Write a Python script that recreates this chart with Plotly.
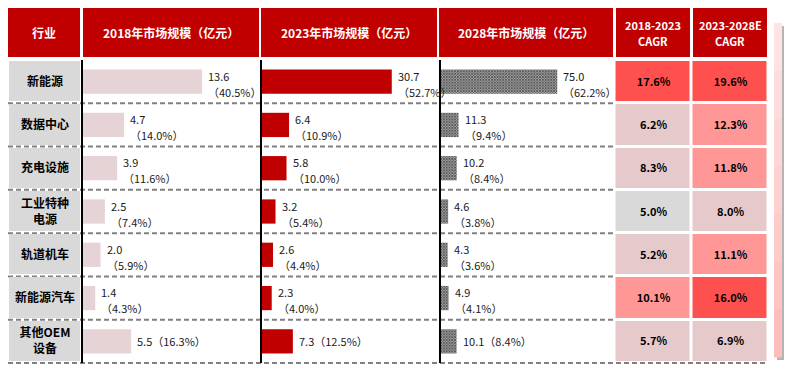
import plotly.graph_objects as go

# ---------------- data ----------------
categories = ["新能源", "数据中心", "充电设施", "工业特种电源", "轨道机车", "新能源汽车", "其他OEM设备"]
cat_labels = ["新能源", "数据中心", "充电设施", "工业特种<br>电源", "轨道机车", "新能源汽车", "其他OEM<br>设备"]
headers = ["行业", "2018年市场规模（亿元）", "2023年市场规模（亿元）", "2028年市场规模（亿元）",
           "2018-2023|CAGR", "2023-2028E|CAGR"]
v2018 = [13.6, 4.7, 3.9, 2.5, 2.0, 1.4, 5.5]
s2018 = [40.5, 14.0, 11.6, 7.4, 5.9, 4.3, 16.3]
v2023 = [30.7, 6.4, 5.8, 3.2, 2.6, 2.3, 7.3]
s2023 = [52.7, 10.9, 10.0, 5.4, 4.4, 4.0, 12.5]
v2028 = [75.0, 11.3, 10.2, 4.6, 4.3, 4.9, 10.1]
s2028 = [62.2, 9.4, 8.4, 3.8, 3.6, 4.1, 8.4]
cagr_18_23 = [17.6, 6.2, 8.3, 5.0, 5.2, 10.1, 5.7]
cagr_23_28 = [19.6, 12.3, 11.8, 8.0, 11.1, 16.0, 6.9]

# ---------------- geometry helpers ----------------
# the page body has an 8px margin, so the figure is placed at (8, 8)
OFF = 8
W, H = 793 - 2 * OFF, 375 - 2 * OFF
FONT = "Noto Sans CJK SC, sans-serif"


def fx(x):
    return (x - OFF) / W


def fy(y):
    return 1 - (y - OFF) / H


RED = "#C00000"
ROW_TOP, ROW_BOT = 60, 363
ydom = [fy(ROW_BOT), fy(ROW_TOP)]

fig = go.Figure()

# ---------------- bars ----------------
fig.add_trace(go.Bar(y=categories, x=v2018, orientation="h", width=0.56,
                     marker=dict(color="#E6D3D6", line=dict(width=0)),
                     xaxis="x", yaxis="y", hoverinfo="skip", showlegend=False))
fig.add_trace(go.Bar(y=categories, x=v2023, orientation="h", width=0.56,
                     marker=dict(color=RED, line=dict(width=0)),
                     xaxis="x2", yaxis="y2", hoverinfo="skip", showlegend=False))
fig.add_trace(go.Bar(y=categories, x=v2028, orientation="h", width=0.56,
                     marker=dict(color="#A8A8A8", line=dict(width=0),
                                 pattern=dict(shape="x", fgcolor="black", bgcolor="#A8A8A8",
                                              size=2, solidity=0.7)),
                     xaxis="x3", yaxis="y3", hoverinfo="skip", showlegend=False))

# ---------------- category column (gray cells) ----------------
fig.add_trace(go.Heatmap(z=[[1] for _ in categories], x=["行业"], y=categories,
                         colorscale=[[0, "#D9D9D9"], [1, "#D9D9D9"]], showscale=False,
                         xgap=3, ygap=3, text=[[l] for l in cat_labels],
                         texttemplate="%{text}",
                         textfont=dict(size=12, color="black", family=FONT, weight="bold"),
                         xaxis="x5", yaxis="y5", hoverinfo="skip"))

# ---------------- CAGR heat cells ----------------
cscale = [[0, "#D9D9D9"], [0.255, "#D9D9D9"], [0.255, "#E6C9CB"], [0.5, "#E6C9CB"],
          [0.5, "#FF9797"], [0.75, "#FF9797"], [0.75, "#FF5050"], [1, "#FF5050"]]
fig.add_trace(go.Heatmap(z=[[a, b] for a, b in zip(cagr_18_23, cagr_23_28)],
                         x=["c1", "c2"], y=categories, zmin=0, zmax=20,
                         colorscale=cscale, showscale=False, xgap=3, ygap=3,
                         text=[[f"{a:.1f}%", f"{b:.1f}%"] for a, b in zip(cagr_18_23, cagr_23_28)],
                         texttemplate="%{text}",
                         textfont=dict(size=11, color="black", family=FONT, weight="bold"),
                         xaxis="x4", yaxis="y4", hoverinfo="skip"))

# ---------------- axes ----------------
ybase = dict(domain=ydom, type="category", categoryorder="array", categoryarray=categories,
             range=[6.5, -0.5], showticklabels=False, showgrid=False, zeroline=False,
             ticks="", fixedrange=True)
yline = dict(showline=True, linecolor="black", linewidth=2)
xhide = dict(visible=False, showgrid=False, zeroline=False, fixedrange=True)

fig.update_layout(
    xaxis=dict(domain=[fx(83), fx(259)], range=[0, 20.1], anchor="y", **xhide),
    yaxis=dict(anchor="x", **ybase, **yline),
    xaxis2=dict(domain=[fx(262), fx(437)], range=[0, 41.4], anchor="y2", **xhide),
    yaxis2=dict(anchor="x2", **ybase, **yline),
    xaxis3=dict(domain=[fx(441), fx(613)], range=[0, 111], anchor="y3", **xhide),
    yaxis3=dict(anchor="x3", **ybase, **yline),
    xaxis4=dict(domain=[fx(614.5), fx(768.5)], anchor="y4", **xhide),
    yaxis4=dict(anchor="x4", visible=False, **ybase),
    xaxis5=dict(domain=[fx(8), fx(81.5)], anchor="y5", **xhide),
    yaxis5=dict(anchor="x5", visible=False, **ybase),
)

shapes = []
annotations = []

# ---------------- row separators ----------------
row_h = (ROW_BOT - ROW_TOP) / len(categories)
for k in range(1, len(categories) + 1):
    yb = ROW_TOP + k * row_h
    x1 = 614 if k < len(categories) else 767
    shapes.append(dict(type="line", xref="paper", yref="paper", x0=fx(8), x1=fx(x1),
                       y0=fy(yb), y1=fy(yb), layer="below",
                       line=dict(color="#808080", width=2, dash="5px,3px")))

# ---------------- header ----------------
hdr_x = [(8, 80), (83, 259), (261, 437), (439, 613), (616, 690), (693, 767)]
for (a, b), t in zip(hdr_x, headers):
    shapes.append(dict(type="rect", xref="paper", yref="paper", x0=fx(a), x1=fx(b),
                       y0=fy(57), y1=fy(8), fillcolor=RED, line=dict(width=0), layer="above"))
    parts = t.split("|")
    if len(parts) == 1:
        annotations.append(dict(xref="paper", yref="paper", x=fx((a + b) / 2), y=fy(32.5),
                                text=t, showarrow=False, xanchor="center", yanchor="middle",
                                font=dict(size=12, color="white", family=FONT, weight="bold")))
    else:
        for part, yy in zip(parts, (25, 41)):
            annotations.append(dict(xref="paper", yref="paper", x=fx((a + b) / 2), y=fy(yy),
                                    text=part, showarrow=False, xanchor="center", yanchor="middle",
                                    font=dict(size=11, color="white", family=FONT, weight="bold")))

# ---------------- decorative side bar ----------------
shapes.append(dict(type="rect", xref="paper", yref="paper", x0=fx(777), x1=fx(784),
                   y0=fy(360), y1=fy(26), fillcolor="rgba(120,120,120,0.55)", line=dict(width=0)))
grad = ["#FFE2E2", "#FFDCDC", "#FFD6D6", "#FFD0D0", "#FFCACA", "#FFC4C4", "#FFBEBE"]
seg = (357 - 23) / len(grad)
for i, c in enumerate(grad):
    shapes.append(dict(type="rect", xref="paper", yref="paper", x0=fx(774), x1=fx(782),
                       y0=fy(23 + (i + 1) * seg + 0.5), y1=fy(23 + i * seg), fillcolor=c,
                       line=dict(width=0)))

# ---------------- bar labels ----------------
last = len(categories) - 1
lbl_font = dict(size=11, color="#1a1a1a", family=FONT)
for ax, vals, shares in (("", v2018, s2018), ("2", v2023, s2023), ("3", v2028, s2028)):
    for i, (c, v, s) in enumerate(zip(categories, vals, shares)):
        base = dict(xref="x" + ax, yref="y" + ax, x=v, y=c, showarrow=False,
                    xanchor="left", yanchor="middle", xshift=4, font=lbl_font)
        if i == last:
            annotations.append(dict(base, text=f"{v:.1f}（{s:.1f}%）"))
        else:
            annotations.append(dict(base, text=f"{v:.1f}", yshift=6))
            annotations.append(dict(base, text=f"（{s:.1f}%）", yshift=-10))

fig.update_layout(
    width=W, height=H, margin=dict(l=0, r=0, t=0, b=0),
    paper_bgcolor="white", plot_bgcolor="rgba(0,0,0,0)",
    shapes=shapes, annotations=annotations, showlegend=False,
    font=dict(family=FONT),
)

fig.write_html("out.html")
